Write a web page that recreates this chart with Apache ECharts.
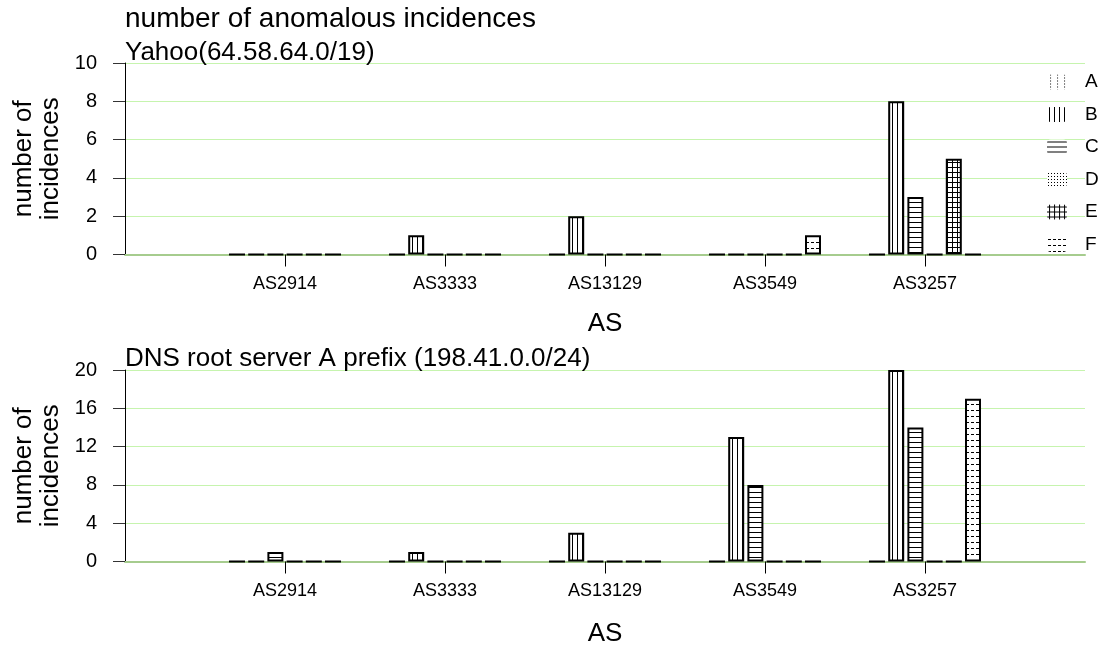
<!DOCTYPE html>
<html>
<head>
<meta charset="utf-8">
<script src="https://cdn.jsdelivr.net/npm/echarts@6/dist/echarts.min.js"></script>
<style>
  html, body { margin: 0; padding: 0; background: #fff; }
  #main { width: 1107px; height: 647px; }
</style>
</head>
<body>
<div id="main"></div>
<script>
// AS categories (blank slot at each end)
const categories = ['', 'AS2914', 'AS3333', 'AS13129', 'AS3549', 'AS3257', '']
const seriesNames = ['A', 'B', 'C', 'D', 'E', 'F']

// Yahoo(64.58.64.0/19)
const yahooA = [0, 0, 0, 0, 0]
const yahooB = [0, 1, 2, 0, 8]
const yahooC = [0, 0, 0, 0, 3]
const yahooD = [0, 0, 0, 0, 0]
const yahooE = [0, 0, 0, 0, 5]
const yahooF = [0, 0, 0, 1, 0]

// DNS root server A prefix (198.41.0.0/24)
const dnsA = [0, 0, 0, 0, 0]
const dnsB = [0, 1, 3, 13, 20]
const dnsC = [1, 0, 0, 8, 14]
const dnsD = [0, 0, 0, 0, 0]
const dnsE = [0, 0, 0, 0, 0]
const dnsF = [0, 0, 0, 0, 17]

const font = 'Liberation Sans, Arial, sans-serif'
const gridColor = '#c6f4ae'
const zeroColor = '#a6cc8e'

// hatch fills drawn on small canvases
const makePattern = (w, h, draw) => {
  const c = document.createElement('canvas')
  c.width = w
  c.height = h
  const ctx = c.getContext('2d')
  ctx.fillStyle = '#fff'
  ctx.fillRect(0, 0, w, h)
  ctx.fillStyle = '#000'
  draw(ctx)
  return { image: c, repeat: 'repeat' }
}
const patterns = [
  makePattern(7, 3, (ctx) => { ctx.fillRect(3, 0, 1, 1) }),                               // A dotted vertical
  makePattern(5, 1, (ctx) => { ctx.fillRect(2, 0, 1, 1) }),                               // B vertical
  makePattern(1, 5, (ctx) => { ctx.fillRect(0, 2, 1, 1) }),                               // C horizontal
  makePattern(3, 3, (ctx) => { ctx.fillRect(1, 1, 1, 1) }),                               // D dots
  makePattern(5, 5, (ctx) => { ctx.fillRect(2, 0, 1, 5); ctx.fillRect(0, 2, 5, 1) }),    // E grid
  makePattern(5, 6, (ctx) => { ctx.fillRect(1, 2, 3, 1) })                                // F dashes
]

const pad = (arr) => ['-', ...arr, '-']

const yahooData = [yahooA, yahooB, yahooC, yahooD, yahooE, yahooF]
const dnsData = [dnsA, dnsB, dnsC, dnsD, dnsE, dnsF]

const makeSeries = (data, idx) => data.map((values, i) => ({
  name: seriesNames[i],
  type: 'bar',
  xAxisIndex: idx,
  yAxisIndex: idx,
  barWidth: 16,
  barGap: '20%',
  itemStyle: {
    color: patterns[i],
    borderColor: '#000',
    borderWidth: 2
  },
  emphasis: { disabled: true },
  data: pad(values)
}))

const xAxisBase = (idx, nameGap) => ({
  type: 'category',
  gridIndex: idx,
  data: categories,
  boundaryGap: false,
  name: 'AS',
  nameLocation: 'middle',
  nameGap: nameGap,
  nameTextStyle: { fontFamily: font, fontSize: 26, color: '#000' },
  axisLine: { lineStyle: { color: zeroColor, width: 2 } },
  axisTick: {
    length: 12,
    interval: (index, value) => value !== '',
    lineStyle: { color: '#000', width: 1 }
  },
  axisLabel: { fontFamily: font, fontSize: 18, color: '#000', margin: 21 },
  splitLine: { show: false }
})

const yAxisBase = (idx, max, interval) => ({
  type: 'value',
  gridIndex: idx,
  min: 0,
  max: max,
  interval: interval,
  name: 'number of\nincidences',
  nameLocation: 'middle',
  nameGap: 60,
  nameRotate: 90,
  nameTextStyle: { fontFamily: font, fontSize: 26, color: '#000', lineHeight: 27 },
  axisLine: { show: true, lineStyle: { color: '#000', width: 1 } },
  axisTick: { show: true, length: 12, lineStyle: { color: '#333' } },
  axisLabel: { fontFamily: font, fontSize: 20, color: '#000', margin: 28 },
  splitLine: { show: true, lineStyle: { color: gridColor, width: 1 } }
})

const chart = echarts.init(document.getElementById('main'), null, { renderer: 'canvas' })
chart.setOption({
  animation: false,
  backgroundColor: '#fff',
  title: [
    { text: 'number of anomalous incidences', left: 125, top: 5, size: 28 },
    { text: 'Yahoo(64.58.64.0/19)', left: 125, top: 40, size: 26 },
    { text: 'DNS root server A prefix (198.41.0.0/24)', left: 125, top: 346, size: 26 }
  ].map((t) => ({
    text: t.text,
    left: t.left,
    top: t.top,
    padding: 0,
    textStyle: { fontFamily: font, fontSize: t.size, fontWeight: 'normal', color: '#000' }
  })),
  legend: {
    data: seriesNames,
    orient: 'vertical',
    left: 1047,
    top: 72.5,
    itemWidth: 20,
    itemHeight: 15,
    itemGap: 13.5,
    padding: 0,
    itemStyle: { borderWidth: 0 },
    textStyle: { fontFamily: font, fontSize: 19, color: '#000', padding: [0, 0, 0, 13] },
    selectedMode: false
  },
  grid: [
    { left: 125, right: 22, top: 63, bottom: 392.5, outerBoundsMode: 'none' },
    { left: 125, right: 22, top: 370, bottom: 85.5, outerBoundsMode: 'none' }
  ],
  xAxis: [xAxisBase(0, 56), xAxisBase(1, 59)],
  yAxis: [yAxisBase(0, 10, 2), yAxisBase(1, 20, 4)],
  series: [...makeSeries(yahooData, 0), ...makeSeries(dnsData, 1)]
})
</script>
</body>
</html>
